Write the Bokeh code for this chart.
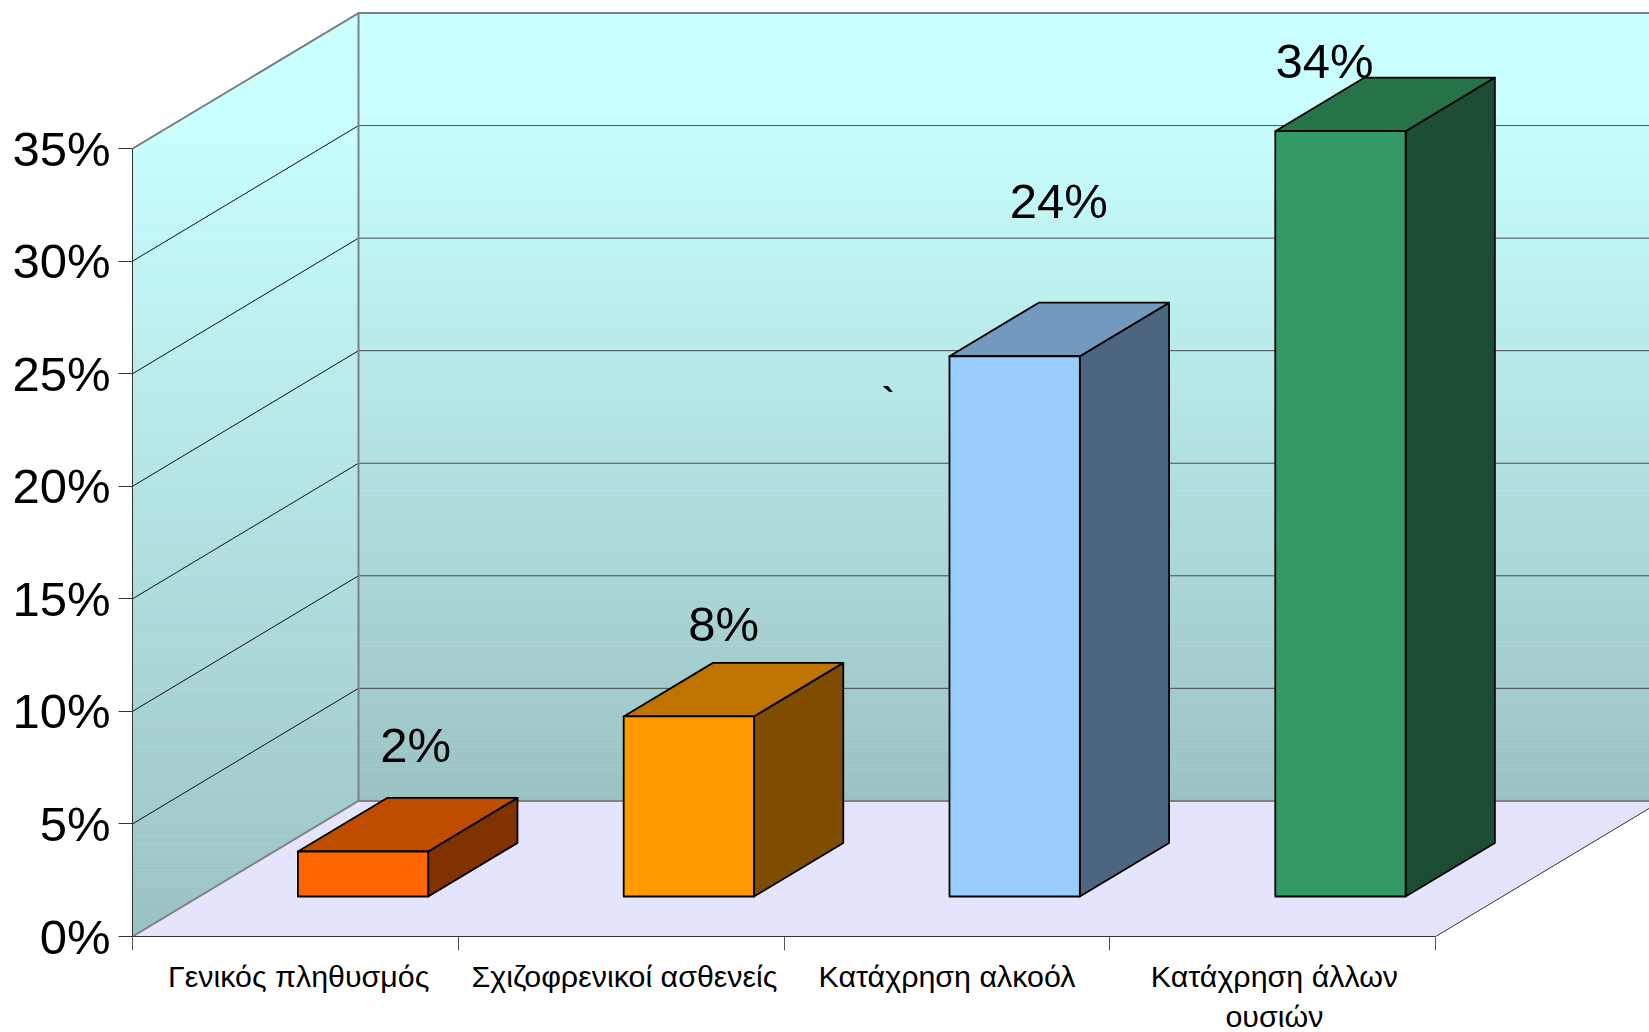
from bokeh.plotting import figure
from bokeh.models import Range1d, FixedTicker, PrintfTickFormatter
from bokeh.core.properties import value
from bokeh.embed import file_html
from bokeh.resources import INLINE

categories = ["Γενικός πληθυσμός", "Σχιζοφρενικοί ασθενείς", "Κατάχρηση αλκοόλ", "Κατάχρηση άλλων\nουσιών"]
values = [2, 8, 24, 34]
labels = ["2%", "8%", "24%", "34%"]
y_ticks = [0, 5, 10, 15, 20, 25, 30, 35]

front_colors = ["#FF6600", "#FF9900", "#99CCFF", "#339966"]
top_colors = ["#BF4D00", "#BF7300", "#7399BF", "#267349"]
side_colors = ["#803300", "#804C00", "#4D6680", "#1A4D33"]

# layout
label_dx = [52.6, 34.7, 44.2, -15.8]
label_dy = [-106.2, -92.5, -155.6, -69.9]
cat_label_pos = [0.51, 1.51, 2.5, 3.505]
FONT = "Liberation Sans"
W, H = 1649, 1032
LEFT, FRAME_H = 132, 936
PX_X = 325.8
PX_Y = 22.51
DX = 226 / PX_X
DY = 135.6 / PX_Y
YMAX = 35
NCAT = len(categories)

p = figure(width=W, height=H, frame_width=W - LEFT, frame_height=FRAME_H,
           output_backend="svg", toolbar_location=None,
           x_range=Range1d(0, (W - LEFT) / PX_X), y_range=Range1d(0, FRAME_H / PX_Y),
           min_border_left=LEFT, min_border_bottom=H - FRAME_H, min_border_top=0, min_border_right=0,
           background_fill_color="white", border_fill_color="white", outline_line_color=None)
p.grid.visible = False


def proj(x, y, z):
    return x + z * DX, y + z * DY


def lerp(a, b, t):
    return "#%02X%02X%02X" % tuple(round(a[i] + (b[i] - a[i]) * t) for i in range(3))


TOP_C, BOT_C = (201, 255, 255), (155, 194, 194)


def shade(y, y0, y1):
    t = (y1 - y) / (y1 - y0)
    return lerp(TOP_C, BOT_C, max(0.0, (t - 0.12) / 0.88))


# floor
fx, fy = zip(*[proj(0, 0, 0), proj(NCAT, 0, 0), proj(NCAT, 0, 1), proj(0, 0, 1)])
p.patch(list(fx), list(fy), fill_color="#E4E4FC", line_color=None)


def left(y):
    return max(0.0, (y - YMAX) / DY) * DX


def right(y):
    return min(1.0, y / DY) * DX


# walls (vertical gradient as thin bands)
N = 220
top = YMAX + DY
step = top / N
for k in range(N):
    a, b = k * step, (k + 1) * step
    m = (a + b) / 2
    c = shade(m, 0, top)
    p.patch([left(a), right(a), right(b), left(b)], [a, a, b, b], fill_color=c, line_color=c, line_width=0.6)
    if b > DY:
        c2 = shade(m, DY, top)
        a2 = max(a, DY)
        p.quad(left=DX, right=NCAT + DX, bottom=a2, top=b, fill_color=c2, line_color=c2, line_width=0.6)

# grid lines
for v in y_ticks[1:-1]:
    x0, y0 = proj(0, v, 0)
    x1, y1 = proj(0, v, 1)
    p.line([x0, x1], [y0, y1], line_color="#111111", line_width=1)
    p.line([x1, NCAT + DX], [y1, y1], line_color="#4A4A4A", line_width=1)

# wall edges
GREY = "#808080"
ex, ey = zip(*[proj(0, 0, 0), proj(0, 0, 1), proj(NCAT, 0, 1)])
p.line(list(ex), list(ey), line_color=GREY, line_width=2)
ex, ey = zip(*[proj(0, YMAX, 0), proj(0, YMAX, 1), proj(NCAT, YMAX, 1)])
p.line(list(ex), list(ey), line_color=GREY, line_width=2)
ex, ey = zip(*[proj(0, 0, 1), proj(0, YMAX, 1)])
p.line(list(ex), list(ey), line_color=GREY, line_width=2)
ex, ey = zip(*[proj(NCAT, 0, 0), proj(NCAT, 0, 1)])
p.line(list(ex), list(ey), line_color="#333333", line_width=1)

# bars
BX, BW, Z0, Z1 = 0.303, 0.4, 0.295, 0.69
for i, v in enumerate(values):
    xl, xr = i + BX, i + BX + BW
    corners_front = [proj(xl, 0, Z0), proj(xr, 0, Z0), proj(xr, v, Z0), proj(xl, v, Z0)]
    corners_top = [proj(xl, v, Z0), proj(xr, v, Z0), proj(xr, v, Z1), proj(xl, v, Z1)]
    corners_side = [proj(xr, 0, Z0), proj(xr, 0, Z1), proj(xr, v, Z1), proj(xr, v, Z0)]
    for pts, col in ((corners_side, side_colors[i]), (corners_top, top_colors[i]), (corners_front, front_colors[i])):
        xs, ys = zip(*pts)
        p.patch(list(xs), list(ys), fill_color=col, line_color="#000000", line_width=1.8, line_join="round")

# value labels
lx = [proj(i + BX + BW / 2, v, Z0)[0] for i, v in enumerate(values)]
ly = [proj(i + BX + BW / 2, v, Z0)[1] for i, v in enumerate(values)]
p.text(lx, ly, text=labels, x_offset=label_dx, y_offset=label_dy, text_align="center",
       text_baseline="alphabetic", text_font=value(FONT), text_font_size="49px", text_color="#000000")

# stray mark on the original slide
p.text([2.32], [23.8], text=["`"], text_align="center", text_baseline="alphabetic",
       text_font=value(FONT), text_font_size="36px", text_font_style="bold", text_color="#000000")

# axes
ya = p.yaxis[0]
ya.ticker = FixedTicker(ticks=y_ticks)
ya.formatter = PrintfTickFormatter(format="%d%%")
ya.bounds = (0, YMAX)
ya.major_tick_in = 0
ya.major_tick_out = 14
ya.minor_tick_in = 0
ya.minor_tick_out = 0
ya.major_tick_line_color = "#333333"
ya.axis_line_color = "#333333"
ya.major_label_standoff = 8
ya.major_label_text_font = FONT
ya.major_label_text_font_size = "49px"
ya.major_label_text_color = "#000000"

xa = p.xaxis[0]
xa.ticker = FixedTicker(ticks=cat_label_pos, minor_ticks=list(range(NCAT + 1)))
xa.major_label_overrides = dict(zip(cat_label_pos, categories))
xa.bounds = (0, NCAT)
xa.major_tick_in = 0
xa.major_tick_out = 0
xa.minor_tick_in = 0
xa.minor_tick_out = 14
xa.minor_tick_line_color = "#555555"
xa.axis_line_color = "#333333"
xa.major_label_standoff = 8
xa.major_label_text_font = FONT
xa.major_label_text_font_size = "30.4px"
xa.major_label_text_color = "#000000"

open("out.html", "w").write(file_html(p, INLINE))
